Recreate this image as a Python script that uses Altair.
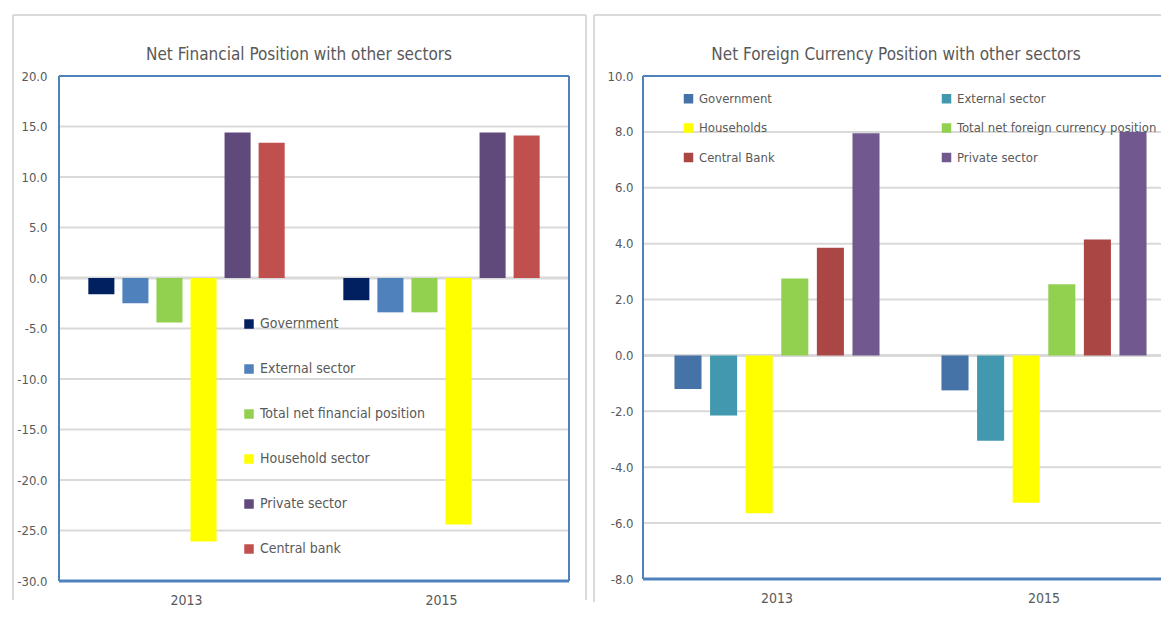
import altair as alt
import pandas as pd

FONT = "Liberation Sans Narrow, DejaVu Sans Condensed, Arial Narrow, sans-serif"
TXT = "#595959"
GRID = "#D9D9D9"
BLUE = "#4F81BD"

years = ["2013", "2015"]

left_title = "Net Financial Position with other sectors"
left_sectors = ["Government", "External sector", "Total net financial position",
                "Household sector", "Private sector", "Central bank"]
left_colors = ["#002060", "#4F81BD", "#92D050", "#FFFF00", "#604A7B", "#C0504D"]
left_2013 = [-1.6, -2.5, -4.4, -26.1, 14.4, 13.4]
left_2015 = [-2.2, -3.4, -3.4, -24.4, 14.4, 14.1]
left_ticks = [-30, -25, -20, -15, -10, -5, 0, 5, 10, 15, 20]

right_title = "Net Foreign Currency Position with other sectors"
right_sectors = ["Government", "External sector", "Households",
                 "Total net foreign currency position", "Central Bank", "Private sector"]
right_colors = ["#4572A7", "#4198AF", "#FFFF00", "#92D050", "#AA4643", "#71588F"]
right_2013 = [-1.2, -2.15, -5.65, 2.75, 3.85, 7.95]
right_2015 = [-1.25, -3.05, -5.27, 2.55, 4.15, 8.0]
right_ticks = [-8, -6, -4, -2, 0, 2, 4, 6, 8, 10]

LABEL_EXPR = "replace(format(datum.value, '.1f'), '\u2212', '-')"

ONE = pd.DataFrame({"k": [0]})


def seg(x1, x2, y1, y2, color, width):
    return alt.Chart(ONE).mark_rule(color=color, strokeWidth=width).encode(
        x=alt.value(x1), x2=alt.value(x2), y=alt.value(y1), y2=alt.value(y2))


def panel(title, sectors, colors, v13, v15, ticks, w, h, frame, title_x,
          legend, xscale, off_pad, ylab_pad):
    rows = []
    for s, a, b in zip(sectors, v13, v15):
        rows.append({"year": years[0], "sector": s, "value": a})
        rows.append({"year": years[1], "sector": s, "value": b})
    df = pd.DataFrame(rows)

    ttl = alt.Chart(pd.DataFrame({"t": [title]})).mark_text(
        fontSize=17, color=TXT, baseline="alphabetic", align="center", font=FONT).encode(
        text="t:N", x=alt.value(title_x), y=alt.value(-16))

    yscale = alt.Scale(domain=[ticks[0], ticks[-1]], nice=False, zero=False)

    grid = alt.Chart(pd.DataFrame({"v": ticks})).mark_rule(
        color=GRID, strokeWidth=2).encode(y=alt.Y("v:Q", scale=yscale))

    bars = alt.Chart(df).mark_bar().encode(
        x=alt.X("year:N", sort=years, scale=alt.Scale(**xscale),
                axis=alt.Axis(title=None, labelAngle=0, ticks=False, domain=False,
                              labelPadding=12, labelFontSize=14, labelColor=TXT,
                              labelFont=FONT)),
        xOffset=alt.XOffset("sector:N", sort=sectors,
                            scale=alt.Scale(paddingInner=off_pad, paddingOuter=0)),
        y=alt.Y("value:Q", scale=yscale,
                axis=alt.Axis(values=ticks, labelExpr=LABEL_EXPR, title=None, ticks=False,
                              domain=False, grid=False,
                              labelPadding=ylab_pad, labelFontSize=13, labelColor=TXT,
                              labelFont=FONT)),
        color=alt.Color("sector:N", sort=sectors,
                        scale=alt.Scale(domain=sectors, range=colors), legend=legend),
    )

    zero = alt.Chart(pd.DataFrame({"y": [0]})).mark_rule(
        color=GRID, strokeWidth=3).encode(y=alt.Y("y:Q", scale=yscale))

    layers = [seg(*f) for f in frame]
    return alt.layer(grid, zero, ttl, bars, *layers).properties(width=w, height=h)


left_legend = alt.Legend(orient="none", legendX=183, legendY=241, title=None,
                         direction="vertical", symbolType="square", symbolSize=90,
                         symbolStrokeWidth=0, labelFontSize=14, labelColor=TXT,
                         labelFont=FONT, rowPadding=31, labelOffset=4, padding=0,
                         labelLimit=300)

right_legend = alt.Legend(orient="none", legendX=39, legendY=16, title=None,
                          direction="horizontal", columns=2, symbolType="square",
                          symbolSize=90, symbolStrokeWidth=0, labelFontSize=13,
                          labelColor=TXT, labelFont=FONT, rowPadding=15.5,
                          columnPadding=165, labelOffset=4, padding=0, labelLimit=300)

LW, LH = 510, 505
RW, RH = 518, 503

left_frame = [
    (-46, 527, -61, -61, GRID, 2), (-46, -46, -61, 524, GRID, 2), (527, 527, -61, 524, GRID, 2),
    (0, LW, 0, 0, BLUE, 2), (0, 0, 0, LH, BLUE, 2), (LW, LW, 0, LH, BLUE, 2),
    (0, LW, LH, LH, BLUE, 3),
]
right_frame = [
    (-49, RW, -61, -61, GRID, 2), (-49, -49, -61, 526, GRID, 2),
    (0, RW, 0, 0, BLUE, 2), (0, 0, 0, RH, BLUE, 2), (0, RW, RH, RH, BLUE, 3),
]

left = panel(left_title, left_sectors, left_colors, left_2013, left_2015, left_ticks,
             LW, LH, left_frame, 240, left_legend,
             dict(paddingInner=0.23, paddingOuter=0.115), 0.235, 12)
right = panel(right_title, right_sectors, right_colors, right_2013, right_2015, right_ticks,
              RW, RH, right_frame, 253, right_legend,
              dict(paddingInner=0.232, paddingOuter=0.086, align=0.685), 0.24, 10)

chart = alt.hconcat(left, right, spacing=74, bounds="flush").resolve_scale(
    color="independent", y="independent", x="independent", xOffset="independent"
).properties(
    padding={"left": 3, "top": 5, "right": 0, "bottom": 0}
).configure(font=FONT).configure_view(stroke="transparent")

chart.save("out.html", embed_options={"renderer": "svg", "actions": False})
